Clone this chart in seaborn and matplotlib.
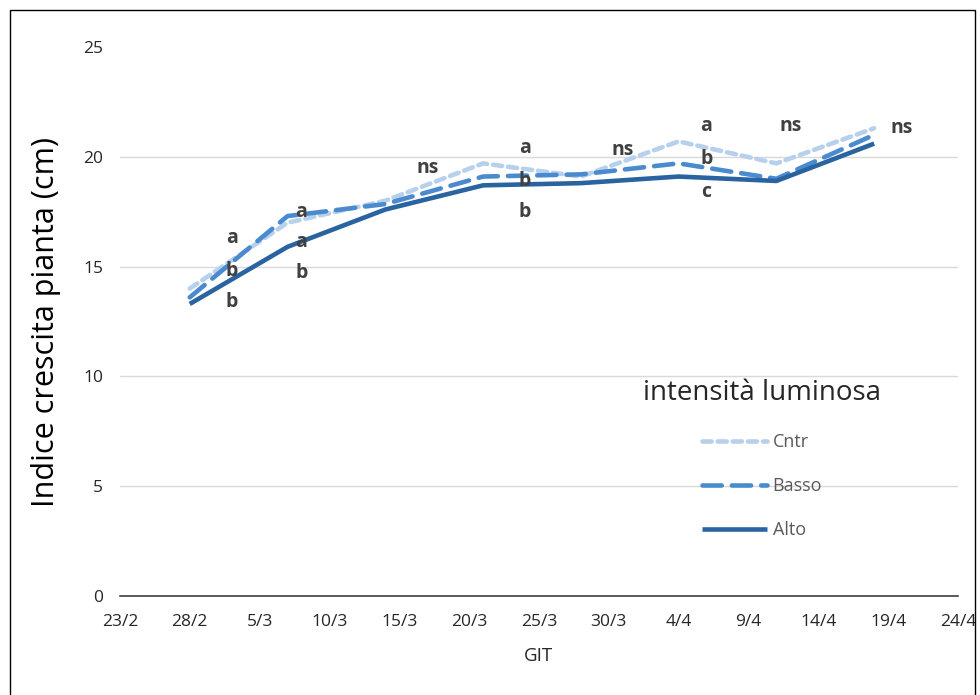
import matplotlib
matplotlib.use("Agg")
import matplotlib.pyplot as plt
import seaborn as sns
import pandas as pd
from matplotlib.patches import Rectangle

dates = ["2021-02-28", "2021-03-07", "2021-03-14", "2021-03-21",
         "2021-03-28", "2021-04-04", "2021-04-11", "2021-04-18"]
cntr = [14.0, 17.0, 18.0, 19.7, 19.1, 20.7, 19.7, 21.3]
basso = [13.6, 17.3, 17.85, 19.1, 19.2, 19.7, 19.0, 21.0]
alto = [13.3, 15.9, 17.6, 18.7, 18.8, 19.1, 18.9, 20.6]
series_names = ["Cntr", "Basso", "Alto"]

tick_dates = ["2021-02-23", "2021-02-28", "2021-03-05", "2021-03-10", "2021-03-15",
              "2021-03-20", "2021-03-25", "2021-03-30", "2021-04-04", "2021-04-09",
              "2021-04-14", "2021-04-19", "2021-04-24"]
tick_labels = ["23/2", "28/2", "5/3", "10/3", "15/3", "20/3", "25/3", "30/3",
               "4/4", "9/4", "14/4", "19/4", "24/4"]

# significance letters: (date, y, text)
sig_dates = ["2021-03-03", "2021-03-03", "2021-03-03",
             "2021-03-08", "2021-03-08", "2021-03-08",
             "2021-03-17",
             "2021-03-24", "2021-03-24", "2021-03-24",
             "2021-03-31",
             "2021-04-06", "2021-04-06", "2021-04-06",
             "2021-04-12", "2021-04-20"]
sig_y = [16.3, 14.8, 13.4, 17.5, 16.1, 14.7, 19.5, 20.4, 18.9, 17.5, 20.3,
         21.4, 19.9, 18.4, 21.4, 21.3]
sig_text = ["a", "b", "b", "a", "a", "b", "ns", "a", "b", "b", "ns",
            "a", "b", "c", "ns", "ns"]

df = pd.DataFrame({
    "date": pd.to_datetime(dates * 3),
    "val": cntr + basso + alto,
    "serie": [s for s in series_names for _ in dates],
})

sns.set_style("white")
plt.rcParams["font.family"] = ["Open Sans", "DejaVu Sans"]

fig = plt.figure(figsize=(9.8, 6.95), dpi=100)
ax = fig.add_axes([0.1224, 0.1424, 0.8551, 0.79])

palette = {"Cntr": "#b7d1ec", "Basso": "#4a8bd0", "Alto": "#2a64a0"}
dashes = {"Cntr": (2.0, 1.3), "Basso": (4.2, 2.2), "Alto": ""}
sns.lineplot(data=df, x="date", y="val", hue="serie", style="serie",
             palette=palette, dashes=dashes, linewidth=3.3, ax=ax,
             hue_order=series_names, style_order=series_names)
for ln in ax.get_lines():
    ln.set_dash_capstyle("round")
    ln.set_solid_capstyle("butt")

for d, y, t in zip(sig_dates, sig_y, sig_text):
    ax.text(pd.Timestamp(d), y, t, ha="center", va="center", fontsize=14,
            fontweight="bold", color="#404040")

tk = pd.to_datetime(tick_dates)
ax.set_xticks(tk)
ax.set_xticklabels(tick_labels, fontsize=12.5, color="#262626")
ax.set_xlim(tk[0], tk[-1])
ax.set_ylim(0, 25)
ax.set_yticks([0, 5, 10, 15, 20, 25])
ax.set_yticklabels(["0", "5", "10", "15", "20", "25"], fontsize=12.5, color="#262626")
ax.yaxis.grid(True, color="#d9d9d9", linewidth=1)
ax.get_ygridlines()[-1].set_visible(False)
ax.set_axisbelow(True)
for s in ["top", "right", "left"]:
    ax.spines[s].set_visible(False)
ax.spines["bottom"].set_color("#404040")
ax.spines["bottom"].set_linewidth(1.2)
ax.tick_params(axis="x", direction="inout", length=10, width=1, color="#404040", pad=8)
ax.tick_params(axis="y", length=0, pad=12)

ax.set_xlabel("GIT", fontsize=13.5, color="#262626", labelpad=12)
ax.set_ylabel("Indice crescita pianta (cm)", fontsize=22, color="#000000", labelpad=16)

handles, labels = ax.get_legend_handles_labels()
leg = ax.legend(handles, labels, title="intensità luminosa", loc="upper left",
                bbox_to_anchor=(0.605, 0.425), frameon=False, fontsize=13,
                title_fontsize=20, handlelength=3.6, labelspacing=1.45,
                handletextpad=0.3)
for t in leg.get_texts():
    t.set_color("#595959")
leg._legend_box.align = "center"

fig.patches.append(Rectangle((10 / 980, -0.01), 965 / 980, 1 - 10 / 695 + 0.01,
                             transform=fig.transFigure, fill=False,
                             edgecolor="#000000", linewidth=1))

fig.savefig("out.png", dpi=100)
